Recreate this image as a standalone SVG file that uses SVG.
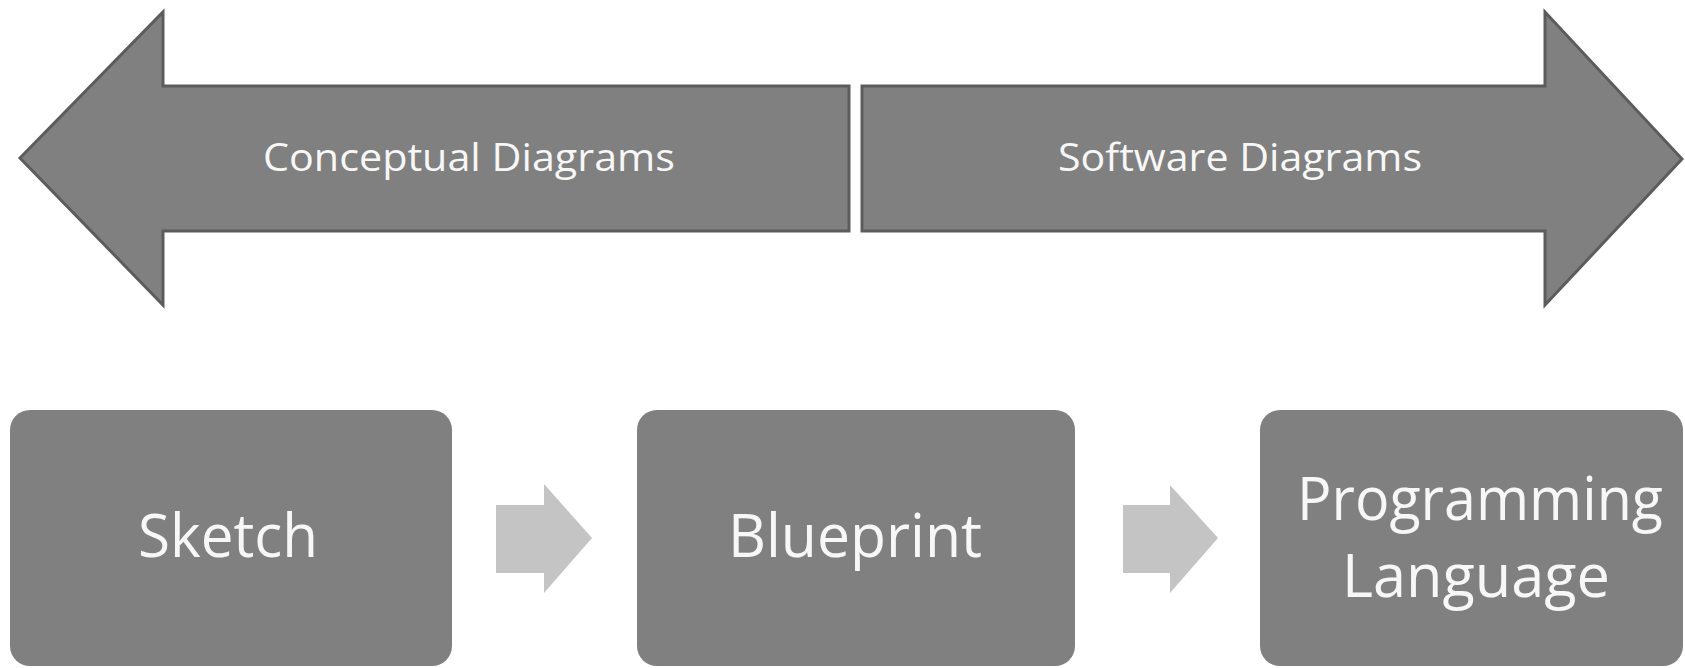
<svg xmlns="http://www.w3.org/2000/svg" width="1685" height="668" viewBox="0 0 1685 668">
  <style>
    .band { fill: #808080; stroke: #5c5c5c; stroke-width: 3; stroke-linejoin: miter; }
    .box { fill: #808080; }
    .step { fill: #c4c4c4; }
    .lbl { font-family: "Open Sans", "Liberation Sans", sans-serif; fill: #f7f7f7; text-anchor: middle; }
    .big { font-size: 39px; }
    .node { font-size: 61px; }
  </style>

  <rect x="0" y="0" width="1685" height="668" fill="#ffffff"/>

  <!-- top range: conceptual vs software -->
  <g id="conceptual">
    <polygon class="band" points="20,158 163,12 163,86 849,86 849,231 163,231 163,305"/>
    <text class="lbl big" x="469" y="171" textLength="412" lengthAdjust="spacingAndGlyphs">Conceptual Diagrams</text>
  </g>
  <g id="software">
    <polygon class="band" points="862,86 1545,86 1545,12 1682,159 1545,305 1545,231 862,231"/>
    <text class="lbl big" x="1240" y="171" textLength="364" lengthAdjust="spacingAndGlyphs">Software Diagrams</text>
  </g>

  <!-- bottom stages -->
  <g id="sketch">
    <rect class="box" x="10" y="410" width="442" height="256" rx="20" ry="20"/>
    <text class="lbl node" x="228" y="557" textLength="180" lengthAdjust="spacingAndGlyphs">Sketch</text>
  </g>
  <g id="blueprint">
    <rect class="box" x="637" y="410" width="438" height="256" rx="20" ry="20"/>
    <text class="lbl node" x="855" y="557" textLength="254" lengthAdjust="spacingAndGlyphs">Blueprint</text>
  </g>
  <g id="programming-language">
    <rect class="box" x="1260" y="410" width="423" height="256" rx="20" ry="20"/>
    <text class="lbl node" x="1480" y="520" textLength="366" lengthAdjust="spacingAndGlyphs">Programming</text>
    <text class="lbl node" x="1476" y="597" textLength="268" lengthAdjust="spacingAndGlyphs">Language</text>
  </g>

  <!-- step arrows between stages -->
  <g id="connectors">
    <polygon class="step" points="496,505 544,505 544,484 592,538 544,593 544,573 496,573"/>
    <polygon class="step" points="1123,505 1170,505 1170,485 1218,538 1170,593 1170,573 1123,573"/>
  </g>
</svg>
